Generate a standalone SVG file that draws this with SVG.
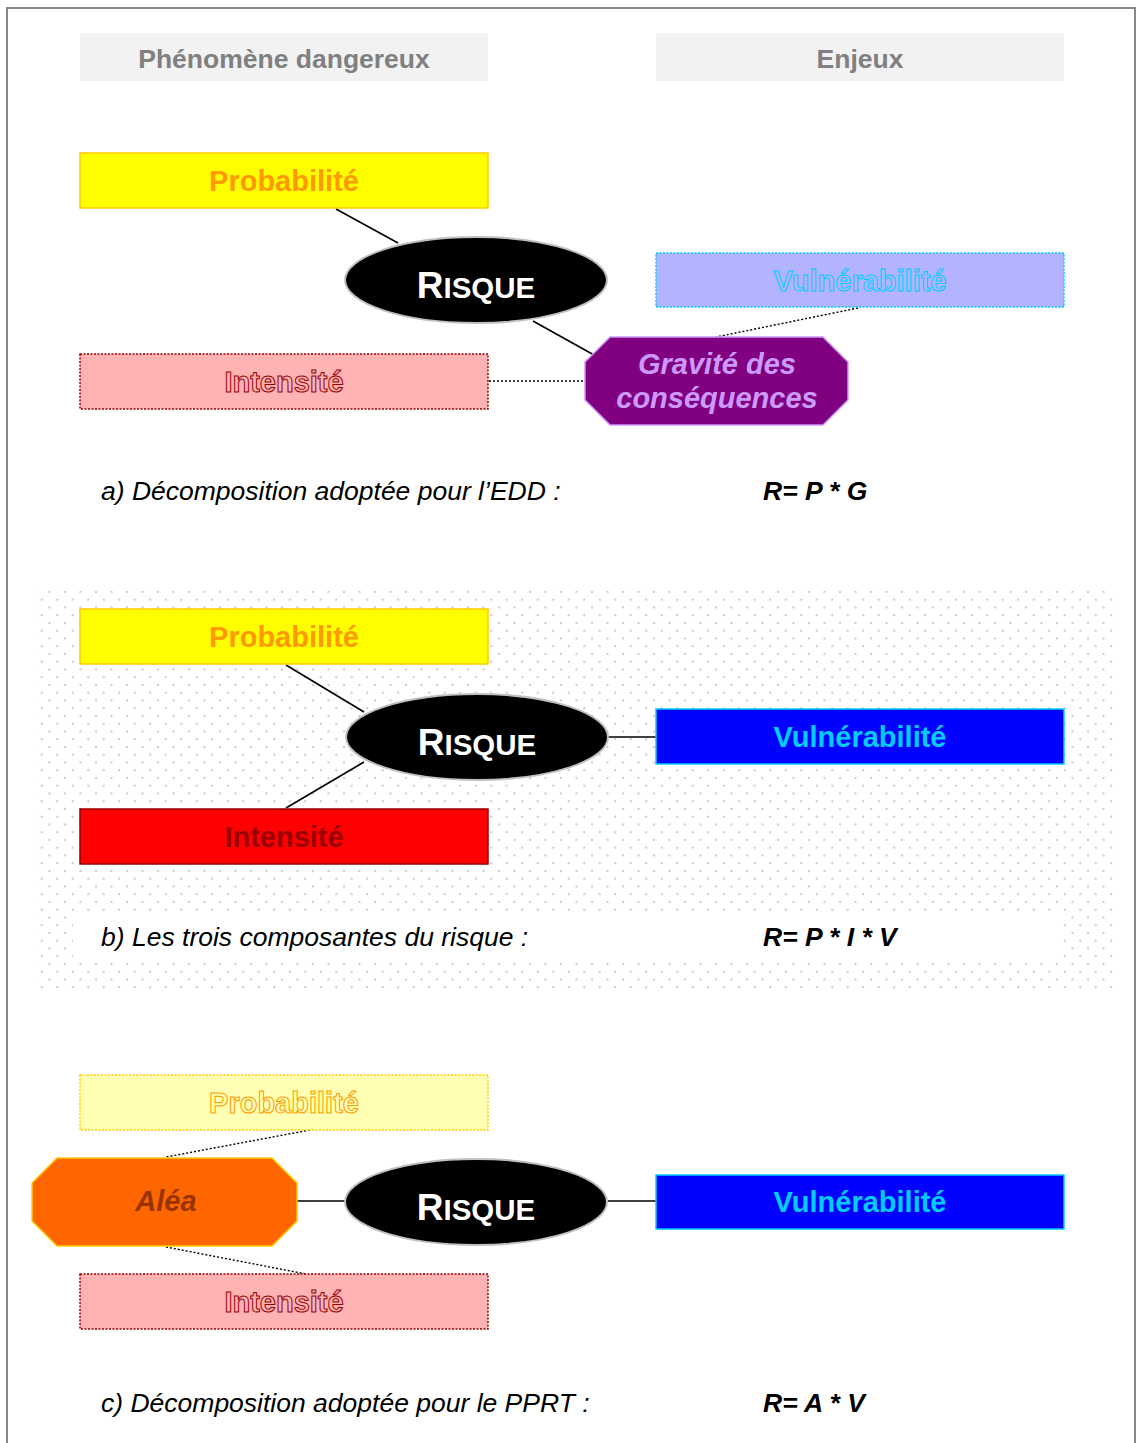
<svg xmlns="http://www.w3.org/2000/svg" width="1137" height="1443" viewBox="0 0 1137 1443">
<defs>
<pattern id="dots" x="0" y="0" width="15.5" height="15.5" patternUnits="userSpaceOnUse">
<circle cx="3" cy="3" r="1.1" fill="#c0c0c0"/>
<circle cx="10.75" cy="10.75" r="1.1" fill="#c0c0c0"/>
</pattern>
<style>
.lbl{font-family:"Liberation Sans",Arial,sans-serif;font-weight:bold;font-size:29px;text-anchor:middle}
.hdr{font-family:"Liberation Sans",Arial,sans-serif;font-weight:bold;font-size:26.5px;fill:#808080;text-anchor:middle}
.cap{font-family:"Liberation Sans",Arial,sans-serif;font-style:italic;font-size:26.5px;fill:#000}
.eq{font-family:"Liberation Sans",Arial,sans-serif;font-style:italic;font-weight:bold;font-size:26.5px;fill:#000;white-space:pre}
.risk{font-family:"Liberation Sans",Arial,sans-serif;font-weight:bold;fill:#fff;text-anchor:middle;font-size:37px}
.risk tspan.s{font-size:29.5px}
.ell{fill:#000;stroke:#c0c0c0;stroke-width:2}
.ln{stroke:#000;stroke-width:1.6;fill:none}
.dl{stroke:#000;stroke-width:1.4;stroke-dasharray:2 2;fill:none}
</style>
</defs>
<rect x="0" y="0" width="1137" height="1443" fill="#fff"/>
<path d="M7,1443 V8 H1135 V1443" fill="none" stroke="#888" stroke-width="2"/>

<!-- dotted background section b -->
<rect x="35" y="588" width="1078" height="402" fill="url(#dots)"/>
<rect x="73" y="915" width="990" height="46" fill="#fff"/>

<g id="headers">
<g id="hdr-phen"><rect x="80" y="33" width="408" height="48" fill="#f2f2f2"/><text class="hdr" x="284" y="68">Phénomène dangereux</text></g>
<g id="hdr-enjeux"><rect x="656" y="33" width="408" height="48" fill="#f2f2f2"/><text class="hdr" x="860" y="68">Enjeux</text></g>
</g>

<g id="connectors">
<line class="ln" x1="336" y1="209" x2="398" y2="243"/>
<line class="ln" x1="533" y1="321" x2="594" y2="355"/>
<line class="dl" x1="858" y1="308" x2="716" y2="337"/>
<line class="dl" x1="489" y1="381" x2="585" y2="381"/>
<line class="ln" x1="286" y1="665" x2="364" y2="712"/>
<line class="ln" x1="364" y1="762" x2="286" y2="808"/>
<line class="ln" x1="608" y1="737" x2="656" y2="737"/>
<line class="dl" x1="310" y1="1130" x2="166" y2="1157"/>
<line class="dl" x1="166" y1="1247" x2="306" y2="1274"/>
<line class="ln" x1="297" y1="1201" x2="345" y2="1201"/>
<line class="ln" x1="608" y1="1201" x2="656" y2="1201"/>
</g>

<!-- Section a -->
<g id="a-prob"><rect x="80" y="153" width="408" height="55" fill="#ffff00" stroke="#ffcc00" stroke-width="1.5"/><text class="lbl" x="284" y="191" fill="#ff9900">Probabilité</text></g>
<g id="a-risque"><ellipse class="ell" cx="476" cy="280" rx="131" ry="43"/><text class="risk" x="476" y="298">R<tspan class="s">ISQUE</tspan></text></g>
<g id="a-vuln"><rect x="656" y="253" width="408" height="54" fill="#b3b3ff" stroke="#00ccff" stroke-width="1.5" stroke-dasharray="2 1.5"/><text class="lbl" x="860" y="291" fill="#b3b3ff" stroke="#00ccff" stroke-width="1">Vulnérabilité</text></g>
<g id="a-grav"><polygon points="610,337 823,337 848,362 848,400 823,425 610,425 585,400 585,362" fill="#800080" stroke="#cc99ff" stroke-width="1.5"/><text class="lbl" x="717" y="374" fill="#cc99ff" font-style="italic">Gravité des</text><text class="lbl" x="717" y="408" fill="#cc99ff" font-style="italic">conséquences</text></g>
<g id="a-int"><rect x="80" y="354" width="408" height="55" fill="#ffb3b3" stroke="#990000" stroke-width="1.5" stroke-dasharray="2 1.5"/><text class="lbl" x="284" y="392" fill="#ffb3b3" stroke="#990000" stroke-width="1">Intensité</text></g>
<g id="a-caption"><text class="cap" x="101" y="500">a) Décomposition adoptée pour l’EDD :</text><text class="eq" x="763" y="500">R= P * G</text></g>

<!-- Section b -->
<g id="b-prob"><rect x="80" y="609" width="408" height="55" fill="#ffff00" stroke="#ffcc00" stroke-width="1.5"/><text class="lbl" x="284" y="647" fill="#ff9900">Probabilité</text></g>
<g id="b-risque"><ellipse class="ell" cx="477" cy="737" rx="131" ry="43"/><text class="risk" x="477" y="755">R<tspan class="s">ISQUE</tspan></text></g>
<g id="b-vuln"><rect x="656" y="709" width="408" height="55" fill="#0000ff" stroke="#00ccff" stroke-width="1.5"/><text class="lbl" x="860" y="747" fill="#00ccff">Vulnérabilité</text></g>
<g id="b-int"><rect x="80" y="809" width="408" height="55" fill="#ff0000" stroke="#990000" stroke-width="1.5"/><text class="lbl" x="284" y="847" fill="#990000">Intensité</text></g>
<g id="b-caption"><text class="cap" x="101" y="946">b) Les trois composantes du risque :</text><text class="eq" x="763" y="946">R= P * I * V</text></g>

<!-- Section c -->
<g id="c-prob"><rect x="80" y="1075" width="408" height="55" fill="#ffffb3" stroke="#ffcc00" stroke-width="1.5" stroke-dasharray="2 1.5"/><text class="lbl" x="284" y="1113" fill="#ffffb3" stroke="#ff9900" stroke-width="1">Probabilité</text></g>
<g id="c-alea"><polygon points="57,1158 272,1158 297,1183 297,1221 272,1246 57,1246 32,1221 32,1183" fill="#ff6600" stroke="#ffcc00" stroke-width="1.5"/><text class="lbl" x="166" y="1211" fill="#993300" font-style="italic">Aléa</text></g>
<g id="c-risque"><ellipse class="ell" cx="476" cy="1202" rx="131" ry="43"/><text class="risk" x="476" y="1220">R<tspan class="s">ISQUE</tspan></text></g>
<g id="c-vuln"><rect x="656" y="1175" width="408" height="54" fill="#0000ff" stroke="#00ccff" stroke-width="1.5"/><text class="lbl" x="860" y="1212" fill="#00ccff">Vulnérabilité</text></g>
<g id="c-int"><rect x="80" y="1274" width="408" height="55" fill="#ffb3b3" stroke="#990000" stroke-width="1.5" stroke-dasharray="2 1.5"/><text class="lbl" x="284" y="1312" fill="#ffb3b3" stroke="#990000" stroke-width="1">Intensité</text></g>
<g id="c-caption"><text class="cap" x="101" y="1412">c) Décomposition adoptée pour le PPRT :</text><text class="eq" x="763" y="1412">R= A * V</text></g>
</svg>
